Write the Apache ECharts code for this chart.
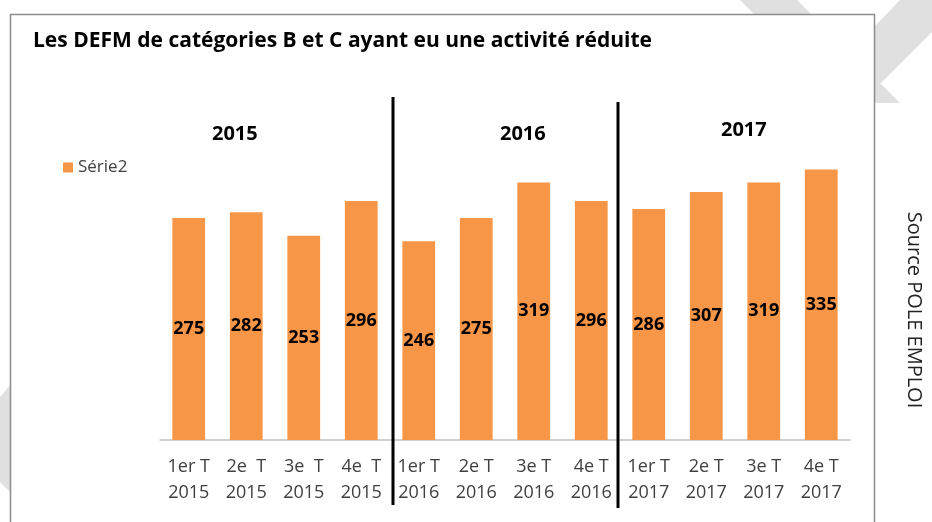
<!DOCTYPE html>
<html>
<head>
<meta charset="utf-8">
<script src="https://cdn.jsdelivr.net/npm/echarts@6/dist/echarts.min.js"></script>
<style>
html,body{margin:0;padding:0;background:#fff;}
#c{width:932px;height:522px;}
</style>
</head>
<body>
<div id="c"></div>
<script>
var categories = ["1er T\n2015","2e  T\n2015","3e  T\n2015","4e  T\n2015",
                  "1er T\n2016","2e T\n2016","3e T\n2016","4e T\n2016",
                  "1er T\n2017","2e T\n2017","3e T\n2017","4e T\n2017"];
var serie2 = [275, 282, 253, 296, 246, 275, 319, 296, 286, 307, 319, 335];
var years = ["2015", "2016", "2017"];
var seriesName = "Série2";
var titleText = "Les DEFM de catégories B et C ayant eu une activité réduite";
var sourceText = "Source POLE EMPLOI";

var chart = echarts.init(document.getElementById('c'), null, {renderer:'canvas'});
var F = "'Open Sans', 'Liberation Sans', sans-serif";
var stripe = '#e0e0e0';
var option = {
  backgroundColor: '#ffffff',
  animation: false,
  grid: {left: 160, right: 82, top: 117, bottom: 82, containLabel: false},
  legend: {
    data: [seriesName], left: 58, top: 154, icon: 'rect', itemWidth: 10, itemHeight: 10, itemGap: 6,
    textStyle: {fontFamily: F, fontSize: 17, color: '#404040'}, z: 8
  },
  xAxis: {
    type: 'category', data: categories, z: 5,
    axisLine: {lineStyle: {color: '#c0c0c0', width: 1.5}},
    axisTick: {show: false},
    axisLabel: {fontFamily: F, fontSize: 18, color: '#404040', lineHeight: 26, margin: 14, interval: 0}
  },
  yAxis: {type: 'value', min: 0, max: 400, show: false, splitLine: {show: false}},
  series: [{
    name: seriesName, type: 'bar', data: serie2, barWidth: '57%', z: 6,
    itemStyle: {color: '#F79646'},
    label: {show: true, position: 'inside', fontFamily: F, fontSize: 18, fontWeight: 'bold', color: '#000'}
  }],
  graphic: [
    {type: 'polygon', z: 0, shape: {points: [[740,0],[797,0],[900,103],[843,103]]}, style: {fill: stripe}},
    {type: 'polygon', z: 0, shape: {points: [[900,0],[932,0],[932,32],[860,104],[800,104]]}, style: {fill: stripe}},
    {type: 'polygon', z: 0, shape: {points: [[0,397],[12,383],[12,494],[0,482]]}, style: {fill: stripe}},
    {type: 'rect', z: 1, shape: {x: 10.5, y: 14.5, width: 864, height: 530}, style: {fill: '#fff', stroke: '#8c8c8c', lineWidth: 1.5}},
    {type: 'text', z: 8, left: 33, top: 31, style: {text: titleText, font: "bold 21px " + F, fill: '#000'}},
    {type: 'text', z: 8, left: 212, top: 124, style: {text: years[0], font: "bold 20px " + F, fill: '#000'}},
    {type: 'text', z: 8, left: 500, top: 124, style: {text: years[1], font: "bold 20px " + F, fill: '#000'}},
    {type: 'text', z: 8, left: 721, top: 120, style: {text: years[2], font: "bold 20px " + F, fill: '#000'}},
    {type: 'line', z: 8, shape: {x1: 393, y1: 97, x2: 393, y2: 505}, style: {stroke: '#000', lineWidth: 3}},
    {type: 'line', z: 8, shape: {x1: 618, y1: 102, x2: 618, y2: 508}, style: {stroke: '#000', lineWidth: 3}},
    {type: 'text', z: 8, x: 914, y: 310, rotation: -Math.PI/2,
      style: {text: sourceText, font: "20px " + F, fill: '#222', textAlign: 'center', textVerticalAlign: 'middle'}}
  ]
};
chart.setOption(option);
</script>
</body>
</html>
